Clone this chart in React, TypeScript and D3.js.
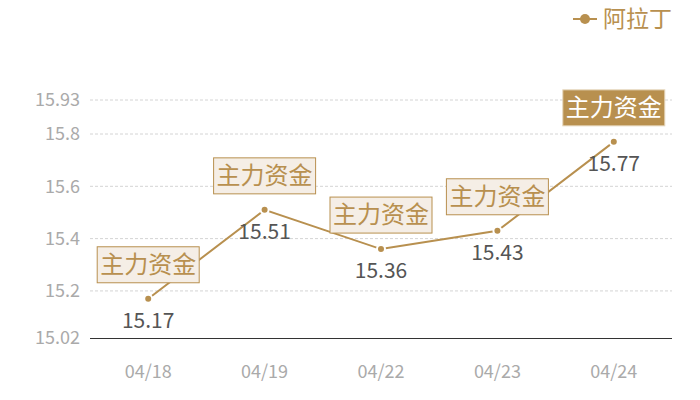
import React, { useEffect, useRef } from 'react';
import * as d3 from 'd3';

const dates = ['04/18', '04/19', '04/22', '04/23', '04/24'];
const values = [15.17, 15.51, 15.36, 15.43, 15.77];
const yTicks = [15.02, 15.2, 15.4, 15.6, 15.8, 15.93];
const seriesName = '阿拉丁';
const markLabel = '主力资金';
const highlightIndex = 4;

const GOLD = '#b8904f';
const FONT = '"Noto Sans CJK SC", "Noto Sans", sans-serif';

export default function App() {
  const svgRef = useRef<SVGSVGElement>(null);

  useEffect(() => {
    if (!svgRef.current) return;
    const svg = d3.select(svgRef.current);
    svg.selectAll('*').remove();

    const margin = { top: 100, right: 28, bottom: 62, left: 90 };
    const width = 700;
    const height = 400;

    const x = d3.scaleBand<string>()
      .domain(dates)
      .range([margin.left, width - margin.right]);
    const y = d3.scaleLinear()
      .domain([15.02, 15.93])
      .range([height - margin.bottom, margin.top]);
    const cx = (d: string) => (x(d) ?? 0) + x.bandwidth() / 2;

    // grid lines
    svg.append('g')
      .selectAll('line')
      .data(yTicks.slice(1))
      .join('line')
      .attr('x1', margin.left)
      .attr('x2', width - margin.right)
      .attr('y1', d => y(d))
      .attr('y2', d => y(d))
      .attr('stroke', '#d4d4d4')
      .attr('stroke-dasharray', '3,2')
      .attr('stroke-width', 1);

    // y labels
    svg.append('g')
      .selectAll('text')
      .data(yTicks)
      .join('text')
      .attr('x', margin.left - 10)
      .attr('y', d => y(d))
      .attr('dy', '0.35em')
      .attr('text-anchor', 'end')
      .attr('font-family', FONT)
      .attr('font-size', 18)
      .attr('fill', '#aaaaaa')
      .text(d => String(d));

    // x axis line
    svg.append('line')
      .attr('x1', margin.left)
      .attr('x2', width - margin.right)
      .attr('y1', y(15.02) + 0.5)
      .attr('y2', y(15.02) + 0.5)
      .attr('stroke', '#333')
      .attr('stroke-width', 1);

    // x labels
    svg.append('g')
      .selectAll('text')
      .data(dates)
      .join('text')
      .attr('x', d => cx(d))
      .attr('y', y(15.02) + 34)
      .attr('dy', '0.35em')
      .attr('text-anchor', 'middle')
      .attr('font-family', FONT)
      .attr('font-size', 18)
      .attr('fill', '#aaaaaa')
      .text(d => d);

    // line
    const line = d3.line<number>()
      .x((_, i) => cx(dates[i]))
      .y(d => y(d));
    svg.append('path')
      .datum(values)
      .attr('d', line)
      .attr('fill', 'none')
      .attr('stroke', GOLD)
      .attr('stroke-width', 2);

    // points
    svg.append('g')
      .selectAll('circle')
      .data(values)
      .join('circle')
      .attr('cx', (_, i) => cx(dates[i]))
      .attr('cy', d => y(d))
      .attr('r', 4)
      .attr('fill', GOLD)
      .attr('stroke', '#fff')
      .attr('stroke-width', 2);

    // value labels
    svg.append('g')
      .selectAll('text')
      .data(values)
      .join('text')
      .attr('x', (_, i) => cx(dates[i]))
      .attr('y', d => y(d) + 22)
      .attr('dy', '0.35em')
      .attr('text-anchor', 'middle')
      .attr('font-family', FONT)
      .attr('font-size', 21)
      .attr('fill', '#555555')
      .text(d => d.toFixed(2));

    // mark boxes
    const boxW = 102;
    const boxH = 36;
    const marks = svg.append('g')
      .selectAll('g')
      .data(values)
      .join('g')
      .attr('transform', (d, i) => `translate(${cx(dates[i])},${y(d) - 34})`);
    marks.append('rect')
      .attr('x', -boxW / 2)
      .attr('y', -boxH / 2)
      .attr('width', boxW)
      .attr('height', boxH)
      .attr('fill', (_, i) => (i === highlightIndex ? GOLD : '#f5eee6'))
      .attr('stroke', (_, i) => (i === highlightIndex ? '#e6d6bb' : GOLD))
      .attr('stroke-width', 1);
    marks.append('text')
      .attr('text-anchor', 'middle')
      .attr('dy', '0.35em')
      .attr('font-family', FONT)
      .attr('font-size', 24)
      .attr('fill', (_, i) => (i === highlightIndex ? '#fff' : GOLD))
      .text(markLabel);

    // legend
    const legend = svg.append('g').attr('transform', 'translate(585,19)');
    legend.append('line')
      .attr('x1', -12)
      .attr('x2', 12)
      .attr('stroke', GOLD)
      .attr('stroke-width', 2);
    legend.append('circle')
      .attr('r', 5)
      .attr('fill', GOLD);
    legend.append('text')
      .attr('x', 18)
      .attr('dy', '0.35em')
      .attr('font-family', FONT)
      .attr('font-size', 23)
      .attr('fill', GOLD)
      .text(seriesName);
  }, []);

  return (
    <svg
      ref={svgRef}
      width={700}
      height={400}
      style={{ position: 'absolute', left: 0, top: 0, background: '#fff' }}
    />
  );
}
